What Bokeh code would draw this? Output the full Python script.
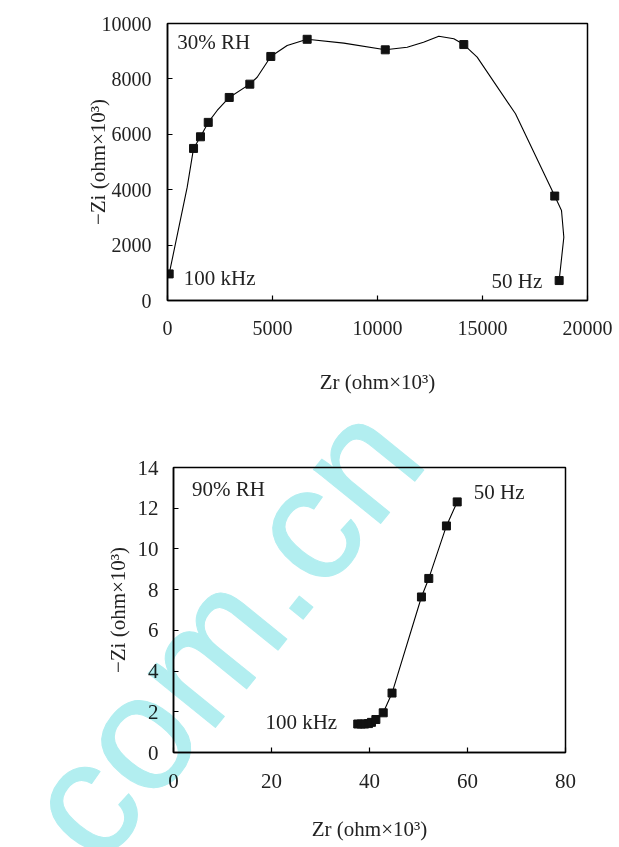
from bokeh.plotting import figure
from bokeh.models import Range1d, FixedTicker, Label
from bokeh.embed import file_html
from bokeh.resources import INLINE

# ---- data: 30% RH (top panel) ----
zr30 = [80, 1240, 1570, 1940, 2940, 3920, 4920, 6650, 10370, 14110, 18440, 18650]
zi30 = [960, 5490, 5910, 6430, 7330, 7810, 8810, 9430, 9050, 9240, 3770, 720]
# fitted curve
fit30_zr = [80, 938, 1240, 1570, 1940, 2365, 2940, 3920, 4270, 4920, 5698, 6650,
            8397, 10370, 11413, 12190, 12920, 13635, 14110, 14746, 16571, 18440,
            18762, 18873, 18650]
fit30_zi = [960, 4090, 5490, 5910, 6430, 6860, 7330, 7810, 8060, 8810, 9206, 9430,
            9290, 9050, 9145, 9325, 9541, 9448, 9240, 8785, 6740, 3770,
            3250, 2285, 720]

# ---- data: 90% RH (bottom panel) ----
zr90 = [37.6, 38.3, 39.0, 39.8, 40.4, 41.3, 42.8, 44.6, 50.6, 52.1, 55.7, 57.9]
zi90 = [1.40, 1.40, 1.40, 1.42, 1.48, 1.62, 1.95, 2.92, 7.64, 8.55, 11.13, 12.31]

top_xticks = [0, 5000, 10000, 15000, 20000]
top_yticks = [0, 2000, 4000, 6000, 8000, 10000]
bot_xticks = [0, 20, 40, 60, 80]
bot_yticks = [0, 2, 4, 6, 8, 10, 12, 14]

SERIF = "Liberation Serif"
XLABEL = "Zr (ohm\u00d710\u00b3)"
YLABEL = "\u2212Zi (ohm\u00d710\u00b3)"
WATERMARK = "com.cn"


def style(p, xticks, yticks, tick_fs, xl_standoff, yl_standoff, xt_standoff, yt_standoff):
    p.grid.visible = False
    p.outline_line_color = "black"
    p.outline_line_width = 1.5
    for ax in (p.xaxis[0], p.yaxis[0]):
        ax.axis_line_color = "black"
        ax.axis_line_width = 1.5
        ax.major_tick_in = 5
        ax.major_tick_out = 0
        ax.major_tick_line_width = 1.2
        ax.minor_tick_line_color = None
        ax.major_label_text_font = SERIF
        ax.major_label_text_font_size = f"{tick_fs}px"
        ax.major_label_text_color = "#222222"
        ax.axis_label_text_font = SERIF
        ax.axis_label_text_font_size = "21px"
        ax.axis_label_text_font_style = "normal"
        ax.axis_label_text_color = "#222222"
    p.xaxis.ticker = FixedTicker(ticks=xticks)
    p.yaxis.ticker = FixedTicker(ticks=yticks)
    p.xaxis.axis_label = XLABEL
    p.yaxis.axis_label = YLABEL
    p.xaxis.axis_label_standoff = xl_standoff
    p.yaxis.axis_label_standoff = yl_standoff
    p.xaxis.major_label_standoff = xt_standoff
    p.yaxis.major_label_standoff = yt_standoff


def note(p, x, y, text, align="left"):
    p.add_layout(Label(x=x, y=y, text=text, text_font=SERIF, text_font_size="21px",
                       text_color="#222222", text_align=align, text_baseline="middle"))


# ---------------- top panel ----------------
p1 = figure(width=619, height=400, output_backend="svg", toolbar_location=None,
            x_range=Range1d(0, 20000), y_range=Range1d(0, 10000),
            min_border_left=167, min_border_right=32, min_border_top=23,
            min_border_bottom=100)
style(p1, top_xticks, top_yticks, 20, 32, -11, 20, 16)
p1.line(fit30_zr, fit30_zi, line_color="black", line_width=1.1)
p1.scatter(zr30, zi30, marker="square", size=8, fill_color="#111111", line_color="#111111")
note(p1, 462, 9350, "30% RH")
note(p1, 776, 812, "100 kHz")
note(p1, 17843, 722, "50 Hz", align="right")

# ---------------- bottom panel ----------------
p2 = figure(width=619, height=447, output_backend="svg", toolbar_location=None,
            x_range=Range1d(0, 80), y_range=Range1d(0, 14),
            min_border_left=173, min_border_right=54, min_border_top=67,
            min_border_bottom=95)
style(p2, bot_xticks, bot_yticks, 21, 26, 5, 21, 15)

p2.line(zr90, zi90, line_color="black", line_width=1.1)
p2.scatter(zr90, zi90, marker="square", size=8, fill_color="#111111", line_color="#111111")
note(p2, 3.76, 12.93, "90% RH")
note(p2, 61.3, 12.79, "50 Hz")
note(p2, 33.4, 1.48, "100 kHz", align="right")

html = file_html([p1, p2], INLINE)

# site watermark laid over the page (multiply blend so black marks stay black)
wm = (
    '<svg xmlns="http://www.w3.org/2000/svg" width="619" height="847" '
    'style="position:absolute;left:0;top:0;pointer-events:none;z-index:10;'
    'mix-blend-mode:multiply;overflow:hidden">'
    '<text x="100" y="870" transform="rotate(-51 100 870)" '
    'font-family="Liberation Sans" font-size="163" fill="#B2EEF0" '
    'stroke="#B2EEF0" stroke-width="1" stroke-linejoin="round">'
    + WATERMARK + '</text></svg>'
)
html = html.replace("</body>", wm + "\n</body>")
open("out.html", "w").write(html)
